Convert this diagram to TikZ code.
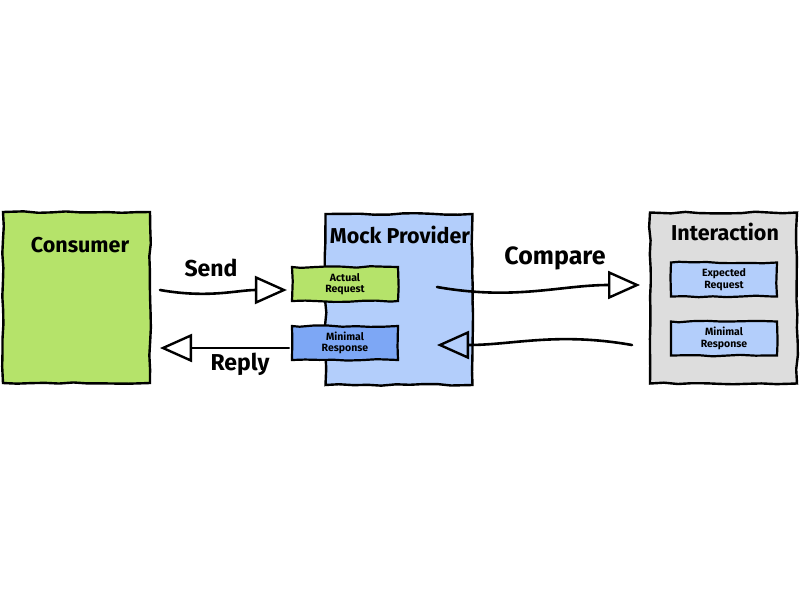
\documentclass[tikz,border=0pt]{standalone}
\usepackage{fontspec}
\setmainfont{Fira Sans}[BoldFont={Fira Sans Bold}]
\usetikzlibrary{arrows.meta,decorations.pathmorphing}
\definecolor{cgreen}{HTML}{B5E36A}
\definecolor{cblue}{HTML}{B3CEFB}
\definecolor{cdblue}{HTML}{7DA7F5}
\definecolor{cgrey}{HTML}{DDDDDD}
\begin{document}
\begin{tikzpicture}[x=1pt,y=-1pt,
  rough/.style={decorate,decoration={random steps,segment length=14pt,amplitude=0.9pt}},
  bigbox/.style={draw=black,line width=2.4pt,rough,minimum width=147pt,minimum height=171pt,inner sep=0pt},
  smallbox/.style={draw=black,line width=2.2pt,rough,minimum width=106pt,minimum height=34pt,inner sep=1pt,align=center,font=\bfseries\fontsize{10.5}{11.5}\selectfont},
  title/.style={font=\bfseries\fontsize{21.5}{24}\selectfont},
  lbl/.style={font=\bfseries\fontsize{23}{26}\selectfont},
  conn/.style={line width=2.6pt,line cap=round,-{Triangle[open,length=32pt,width=28pt,line width=2.4pt]}}
  ]
\useasboundingbox (0,0) rectangle (800,600);
\node[bigbox,fill=cgreen] (cons) at (76.5,297.5) {};
\node[title] (consl) at (80,245) {Consumer};
\node[bigbox,fill=cblue] (mock) at (399,299.5) {};
\node[title] (mockl) at (400,235) {Mock Provider};
\node[bigbox,fill=cgrey] (inter) at (723.5,298) {};
\node[title] (interl) at (725,232) {Interaction};
\node[smallbox,fill=cgreen] (areq) at (345,284) {Actual\\Request};
\node[smallbox,fill=cdblue] (mresp) at (345,343) {Minimal\\Response};
\node[smallbox,fill=cblue] (ereq) at (724,279.5) {Expected\\Request};
\node[smallbox,fill=cblue] (mresp2) at (724,338.5) {Minimal\\Response};
\coordinate (s1) at (160,290);
\coordinate (c1) at (437,287);
\coordinate (c2) at (640,285);
\coordinate (r1) at (632,345);
\coordinate (r2) at (437,345);
\coordinate (p2) at (160,348);
\draw[conn] (s1) to[out=-10,in=180] ([xshift=-4pt]areq.west |- s1);
\draw[conn] ([xshift=-2pt]mresp.west |- p2) to[out=180,in=0] (p2);
\draw[conn] (c1) to[out=-10,in=180] (c2);
\draw[conn] (r1) to[out=170,in=0] (r2);
\node[lbl] (send) at (211,268) {Send};
\node[lbl] (reply) at (240,364) {Reply};
\node[lbl,font=\bfseries\fontsize{25}{28}\selectfont] (comp) at (555,258) {Compare};
\end{tikzpicture}
\end{document}
